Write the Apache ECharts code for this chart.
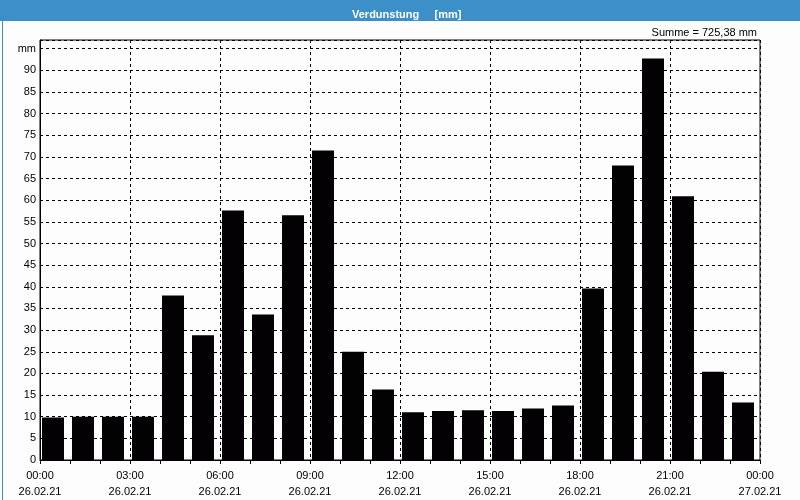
<!DOCTYPE html>
<html>
<head>
<meta charset="utf-8">
<script src="https://cdn.jsdelivr.net/npm/echarts@6/dist/echarts.min.js"></script>
<style>
html,body{margin:0;padding:0;background:#fcfdfc;}
#chart{width:800px;height:500px;}
</style>
</head>
<body>
<div id="chart"></div>
<script>
// Data
var hours = ['00','01','02','03','04','05','06','07','08','09','10','11','12','13','14','15','16','17','18','19','20','21','22','23'];
var evaporation = [9.8, 10.0, 10.0, 10.0, 38.0, 28.8, 57.6, 33.6, 56.5, 71.5, 25.0, 16.3, 11.0, 11.3, 11.5, 11.3, 11.9, 12.6, 39.6, 68.0, 92.7, 60.9, 20.4, 13.3];
var tickTimes = ['00:00','03:00','06:00','09:00','12:00','15:00','18:00','21:00','00:00'];
var tickDates = ['26.02.21','26.02.21','26.02.21','26.02.21','26.02.21','26.02.21','26.02.21','26.02.21','27.02.21'];
var titleText = 'Verdunstung     [mm]';
var sumText = 'Summe = 725,38 mm';
var unitLabel = 'mm';

var FONT = 'Liberation Sans';
var chart = echarts.init(document.getElementById('chart'));
chart.setOption({
  animation: false,
  backgroundColor: '#fcfdfc',
  textStyle: {fontFamily: FONT},
  title: [{
    text: titleText,
    left: 347, top: 4,
    textStyle: {color: '#ffffff', fontSize: 11, fontWeight: 'bold', fontFamily: FONT}
  }, {
    text: sumText,
    right: 38, top: 22,
    textStyle: {color: '#000000', fontSize: 11, fontWeight: 'normal', fontFamily: FONT}
  }],
  graphic: [
    {type: 'rect', left: 0, top: 0, shape: {width: 800, height: 21}, style: {fill: '#3c8fc7'}, z: -1},
    {type: 'rect', left: 0, top: 0, shape: {width: 799, height: 499}, style: {fill: 'none', stroke: '#3c8fc7', lineWidth: 1}, z: -1}
  ],
  grid: [
    {left: 40, top: 40, width: 720, height: 420, show: true, borderColor: '#000', borderWidth: 1, backgroundColor: 'transparent'},
    {left: 38, top: 40, width: 720, height: 420, show: false}
  ],
  xAxis: [{
    type: 'value', gridIndex: 0, min: 0, max: 24, interval: 3,
    axisLine: {show: true, lineStyle: {color: '#000', width: 1}},
    axisTick: {show: true, length: 4, lineStyle: {color: '#000'}},
    minorTick: {show: true, splitNumber: 3, length: 4, lineStyle: {color: '#000'}},
    splitLine: {show: true, lineStyle: {color: '#000', type: [3, 3], width: 1}},
    axisLabel: {
      color: '#000', fontSize: 11, margin: 8, lineHeight: 16,
      formatter: function (v) { var i = Math.round(v / 3); return tickTimes[i] + '\n' + tickDates[i]; }
    }
  }, {
    type: 'category', gridIndex: 1, data: hours, show: false
  }],
  yAxis: [{
    type: 'value', gridIndex: 0, min: 0, max: 97, interval: 5,
    axisLine: {show: true, lineStyle: {color: '#000', width: 1}},
    axisTick: {show: false},
    splitLine: {show: true, lineStyle: {color: '#000', type: [3, 3], width: 1}},
    axisLabel: {
      color: '#000', fontSize: 11, margin: 4,
      formatter: function (v) {
        if (v === 95) return unitLabel;
        if (v % 5 !== 0 || v > 95) return '';
        return String(v);
      }
    }
  }, {
    type: 'value', gridIndex: 1, min: 0, max: 97, show: false, splitLine: {show: false}
  }],
  series: [{
    type: 'bar', xAxisIndex: 1, yAxisIndex: 1,
    data: evaporation, barWidth: 22,
    itemStyle: {color: '#030104'}
  }]
});
</script>
</body>
</html>
